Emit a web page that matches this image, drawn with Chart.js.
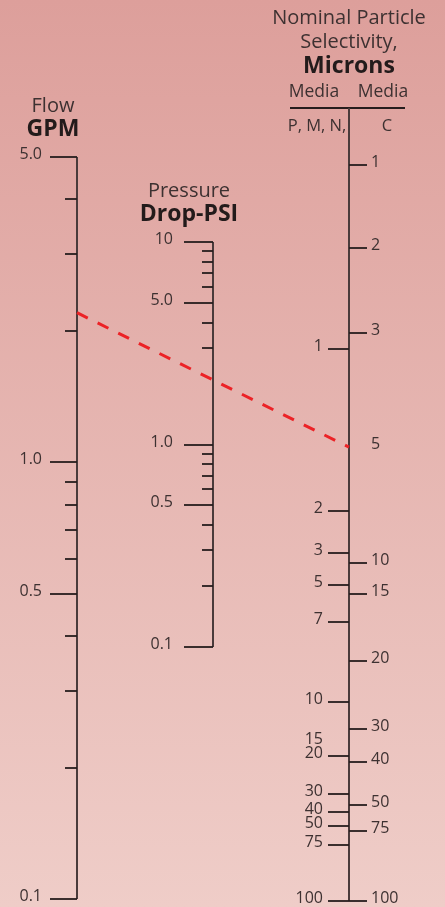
<!DOCTYPE html>
<html>
<head>
<meta charset="utf-8">
<script src="https://cdn.jsdelivr.net/npm/chart.js@4.4.1/dist/chart.umd.min.js"></script>
<style>
  html, body { margin: 0; padding: 0; }
  body { width: 445px; height: 907px; overflow: hidden; background: linear-gradient(#dd9f9b, #efcdc8); }
  #wrap { position: relative; width: 445px; height: 907px; }
</style>
</head>
<body>
<div id="wrap"><canvas id="nomo"></canvas></div>
<script>
// Flow, GPM
const flowLabels = ['5.0', '1.0', '0.5', '0.1'];
const flowMajor = [5.0, 1.0, 0.5, 0.1];
const flowMinor = [4, 3, 2, 0.9, 0.8, 0.7, 0.6, 0.4, 0.3, 0.2];

// Pressure drop, PSI
const psiLabels = ['10', '5.0', '1.0', '0.5', '0.1'];
const psiMajor = [10, 5.0, 1.0, 0.5, 0.1];
const psiMinor = [9, 8, 7, 6, 4, 3, 0.9, 0.8, 0.7, 0.6, 0.4, 0.3, 0.2];

// Micron ratings, with the pressure drop (psi) each gives at 1 GPM
const micronsPMN = [1, 2, 3, 5, 7, 10, 15, 20, 30, 40, 50, 75, 100];
const micronsPMNDrop = [1.55, 0.617, 0.485, 0.405, 0.328, 0.208, 0.166, 0.153, 0.123, 0.111, 0.103, 0.092, 0.0671];
const micronsC = [1, 2, 3, 5, 10, 15, 20, 30, 40, 50, 75, 100];
const micronsCDrop = [4.40, 2.74, 1.69, 0.885, 0.458, 0.385, 0.262, 0.178, 0.148, 0.116, 0.100, 0.0671];
const noTickPMN = [15];
const noTickC = [5];

// example reading (dashed line)
const exampleFlow = 2.2;
const exampleMicronC = 5;

const AREA_TOP = 110, AREA_BOTTOM = 901;
const TEXT = '#3d3131', BOLD = '#231b1b', INK = '#261d1d', AXIS = '#4a3b3b';
const FONT = '"Open Sans", "Noto Sans", sans-serif';

// log range so that vHigh sits at yHigh and vLow at yLow inside the chart area
function logRange(vHigh, yHigh, vLow, yLow) {
  const perPx = Math.log10(vHigh / vLow) / (yLow - yHigh);
  return {
    min: vLow / Math.pow(10, (AREA_BOTTOM - yLow) * perPx),
    max: vHigh * Math.pow(10, (yHigh - AREA_TOP) * perPx)
  };
}

function logAxis(range) {
  return Object.assign({ type: 'logarithmic', axis: 'y', position: 'left', display: false, bounds: 'data' }, range);
}

function write(ctx, str, x, y, font, color, align) {
  ctx.font = font;
  ctx.fillStyle = color;
  ctx.textAlign = align;
  ctx.textBaseline = 'alphabetic';
  ctx.fillText(str, x, y);
}

function line(ctx, x1, y1, x2, y2, color, width) {
  ctx.beginPath();
  ctx.strokeStyle = color;
  ctx.lineWidth = width;
  ctx.moveTo(x1, y1);
  ctx.lineTo(x2, y2);
  ctx.stroke();
}

const nomograph = {
  id: 'nomograph',
  afterDraw(chart) {
    const ctx = chart.ctx;
    const s = chart.scales;
    const top = chart.chartArea.top;
    const xFlow = s.x.getPixelForValue(0);
    const xPsi = s.x.getPixelForValue(1);
    const xMic = s.x.getPixelForValue(2);
    const digits = '16px ' + FONT;
    ctx.save();
    ctx.lineCap = 'butt';

    // Flow axis
    const fTop = s.flow.getPixelForValue(flowMajor[0]);
    const fBot = s.flow.getPixelForValue(flowMajor[flowMajor.length - 1]);
    line(ctx, xFlow, fTop, xFlow, fBot, AXIS, 2);
    flowMajor.forEach((v, i) => {
      const y = Math.round(s.flow.getPixelForValue(v));
      line(ctx, xFlow - 27, y, xFlow, y, INK, 1.8);
      write(ctx, flowLabels[i], xFlow - 35, y + 2, digits, TEXT, 'right');
    });
    flowMinor.forEach(v => {
      const y = Math.round(s.flow.getPixelForValue(v));
      line(ctx, xFlow - 12, y, xFlow, y, INK, 1.8);
    });
    write(ctx, 'Flow', xFlow - 24, fTop - 45, '20px ' + FONT, TEXT, 'center');
    write(ctx, 'GPM', xFlow - 24, fTop - 21, 'bold 23px ' + FONT, BOLD, 'center');

    // Pressure axis
    const pTop = s.psi.getPixelForValue(psiMajor[0]);
    const pBot = s.psi.getPixelForValue(psiMajor[psiMajor.length - 1]);
    line(ctx, xPsi, pTop, xPsi, pBot, AXIS, 2);
    psiMajor.forEach((v, i) => {
      const y = Math.round(s.psi.getPixelForValue(v));
      line(ctx, xPsi - 29, y, xPsi, y, INK, 1.8);
      write(ctx, psiLabels[i], xPsi - 40, y + 2, digits, TEXT, 'right');
    });
    psiMinor.forEach(v => {
      const y = Math.round(s.psi.getPixelForValue(v));
      line(ctx, xPsi - 11, y, xPsi, y, INK, 1.8);
    });
    write(ctx, 'Pressure', xPsi - 24, pTop - 45, '20px ' + FONT, TEXT, 'center');
    write(ctx, 'Drop-PSI', xPsi - 24, pTop - 21, 'bold 23px ' + FONT, BOLD, 'center');

    // Microns axis
    const mBot = s.micron.getPixelForValue(micronsCDrop[micronsCDrop.length - 1]);
    line(ctx, xMic - 59, top - 2, xMic + 56, top - 2, INK, 1.8);
    line(ctx, xMic, top - 2, xMic, mBot, AXIS, 2);
    micronsPMN.forEach((m, i) => {
      const y = Math.round(s.micron.getPixelForValue(micronsPMNDrop[i]));
      if (!noTickPMN.includes(m)) line(ctx, xMic - 21, y, xMic, y, INK, 1.8);
      write(ctx, String(m), xMic - 26, y + 2, digits, TEXT, 'right');
    });
    micronsC.forEach((m, i) => {
      const y = Math.round(s.micron.getPixelForValue(micronsCDrop[i]));
      if (!noTickC.includes(m)) line(ctx, xMic, y, xMic + 18, y, INK, 1.8);
      write(ctx, String(m), xMic + 22, y + 2, digits, TEXT, 'left');
    });
    write(ctx, 'Nominal Particle', xMic, top - 86, '20px ' + FONT, TEXT, 'center');
    write(ctx, 'Selectivity,', xMic, top - 62, '20px ' + FONT, TEXT, 'center');
    write(ctx, 'Microns', xMic, top - 37, 'bold 23px ' + FONT, BOLD, 'center');
    write(ctx, 'Media', xMic - 35, top - 13, '17.5px ' + FONT, TEXT, 'center');
    write(ctx, 'Media', xMic + 34, top - 13, '17.5px ' + FONT, TEXT, 'center');
    write(ctx, 'P, M, N,', xMic - 32, top + 21, '16.5px ' + FONT, TEXT, 'center');
    write(ctx, 'C', xMic + 38, top + 21, '16.5px ' + FONT, TEXT, 'center');

    // example reading
    const yA = s.flow.getPixelForValue(exampleFlow);
    const yB = s.micron.getPixelForValue(micronsCDrop[micronsC.indexOf(exampleMicronC)]);
    ctx.setLineDash([12, 11]);
    line(ctx, xFlow, yA, xMic, yB, '#ec2226', 3);
    ctx.restore();
  }
};

new Chart(document.getElementById('nomo'), {
  type: 'scatter',
  data: { datasets: [] },
  options: {
    responsive: true,
    maintainAspectRatio: false,
    animation: false,
    layout: { padding: { left: 77, right: 96, top: AREA_TOP, bottom: 907 - AREA_BOTTOM } },
    plugins: { legend: { display: false }, tooltip: { enabled: false } },
    scales: {
      x: { type: 'linear', min: 0, max: 2, display: false },
      flow: logAxis(logRange(5.0, 157, 0.1, 899)),
      psi: logAxis(logRange(10, 242, 0.1, 647)),
      micron: logAxis(logRange(micronsCDrop[0], 165, micronsCDrop[micronsCDrop.length - 1], 901))
    }
  },
  plugins: [nomograph]
});
</script>
</body>
</html>
